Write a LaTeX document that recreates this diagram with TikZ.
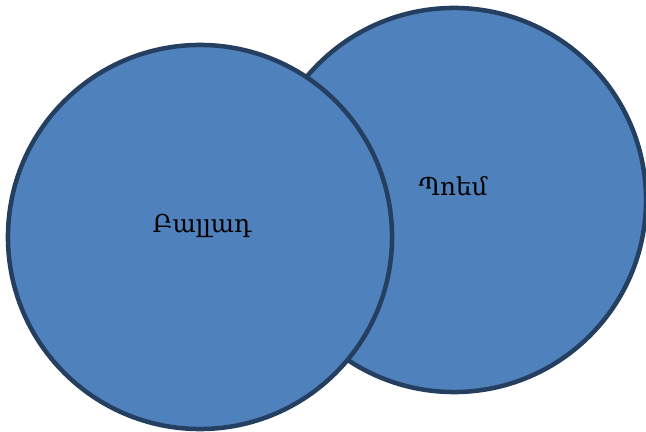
\documentclass[tikz,border=0pt]{standalone}
\usepackage{fontspec}
\setmainfont{DejaVu Serif}
\definecolor{setfill}{HTML}{4F81BD}
\definecolor{setline}{HTML}{243F60}

\begin{document}
\begin{tikzpicture}[x=0.025cm,y=-0.025cm,font=\fontsize{17.5}{20}\selectfont]
\useasboundingbox (0,0) rectangle (646,432);
\tikzset{setcircle/.style={circle,draw=setline,fill=setfill,line width=3.2pt,minimum size=9.6cm,inner sep=0pt}}
\node[setcircle] (poem) at (454,200) {};
\node[setcircle] (ballad) at (200,237) {};
\node (poemlbl) at (453,186) {Պոեմ};
\node (balladlbl) at (202,226) {Բալլադ};
\end{tikzpicture}
\end{document}
